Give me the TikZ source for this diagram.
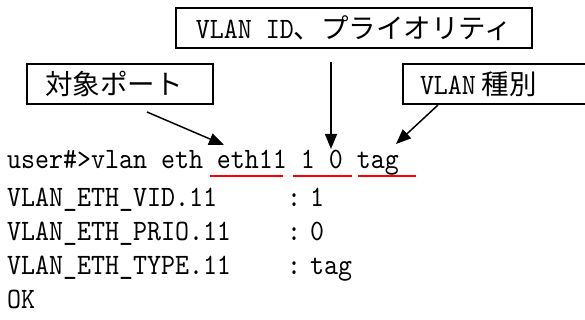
\documentclass[tikz,border=0pt]{standalone}
\usepackage{fontspec}
\newfontfamily\cjkjp{Noto Sans CJK JP}
\newfontfamily\monolat[FakeStretch=0.9]{lmmono10-regular.otf}
\newcommand\jtext[1]{{\cjkjp\fontsize{27.5}{30}\selectfont #1}}
\usetikzlibrary{arrows.meta}
\tikzset{
  monotext/.style={font=\fontsize{29.6}{32}\selectfont\monolat, inner sep=0pt, anchor=base west},
  labelbox/.style={draw, line width=1.5pt, minimum height=40pt, inner ysep=0pt,
    font=\fontsize{29.6}{32}\selectfont\monolat},
  pointer/.style={line width=1.5pt, -{Triangle[length=15pt,width=12pt]}},
  redline/.style={draw=red, line width=1.5pt}
}
\begin{document}
\begin{tikzpicture}[x=1pt,y=-1pt]
\useasboundingbox[fill=white] (0,0) rectangle (585,320);

% label boxes
\node[labelbox, minimum width=356pt] (idbox) at (354,28) {VLAN ID\jtext{、プライオリティ}};
\node[labelbox, inner xsep=18pt, text width=150pt, align=left] (portbox) at (120,84) {\jtext{対象ポート}};
\node[labelbox, inner xsep=17pt, text width=153pt, align=left] (typebox) at (496.5,84) {VLAN\hspace{6pt}\jtext{種別}};

% command output lines
\node[monotext] (l1) at (7,169) {user\#>vlan eth eth11 1 0 tag};
\node[monotext] (l2) at (7,206) {VLAN\_ETH\_VID.11};
\node[monotext] (l3) at (7,240) {VLAN\_ETH\_PRIO.11};
\node[monotext] (l4) at (7,274) {VLAN\_ETH\_TYPE.11};
\node[monotext] (l5) at (7,308) {OK};

\node[monotext, anchor=base] (c2) at (294,206) {:};
\node[monotext, anchor=base] (c3) at (294,240) {:};
\node[monotext, anchor=base] (c4) at (294,274) {:};
\node[monotext] (v2) at (310,206) {1};
\node[monotext] (v3) at (310,240) {0};
\node[monotext] (v4) at (310,274) {tag};

% red underlines
\coordinate (u1a) at (210,176); \coordinate (u1b) at (283,176);
\coordinate (u2a) at (293,176); \coordinate (u2b) at (352,176);
\coordinate (u3a) at (358,176); \coordinate (u3b) at (416,176);
\draw[redline] (u1a) -- (u1b);
\draw[redline] (u2a) -- (u2b);
\draw[redline] (u3a) -- (u3b);

% pointers
\coordinate (p1s) at (147,112); \coordinate (p1e) at (224,145);
\coordinate (p2s) at (331,62);  \coordinate (p2e) at (331,149);
\coordinate (p3s) at (438,105); \coordinate (p3e) at (396,144);
\draw[pointer] (p1s) -- (p1e);
\draw[pointer] (p2s) -- (p2e);
\draw[pointer] (p3s) -- (p3e);
\end{tikzpicture}
\end{document}
